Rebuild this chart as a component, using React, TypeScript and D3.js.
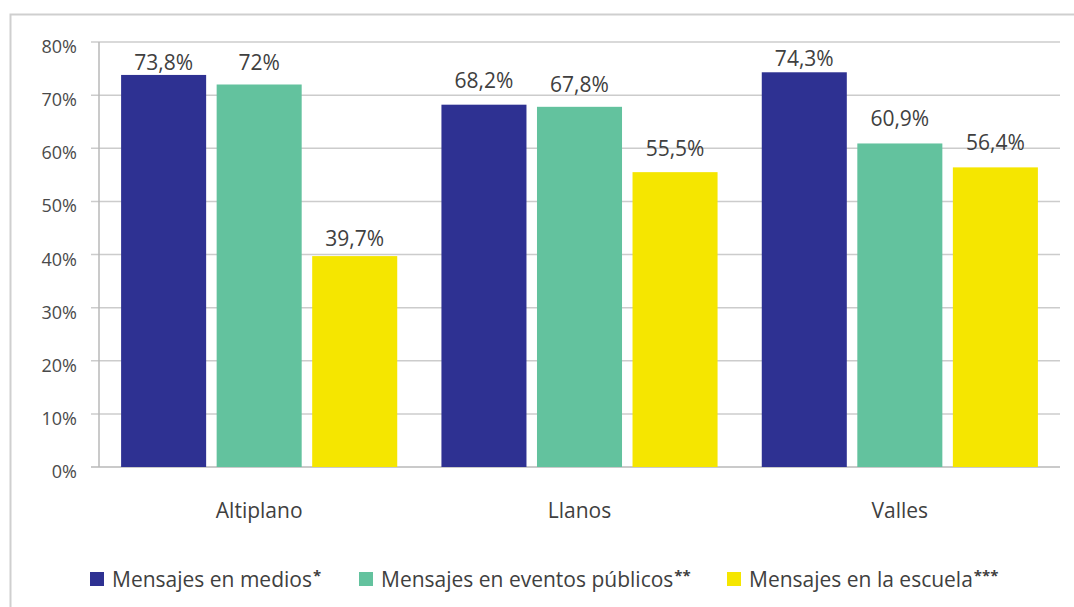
import React from "react";
import * as d3 from "d3";

const categories = ["Altiplano", "Llanos", "Valles"];
const seriesNames = [
  "Mensajes en medios*",
  "Mensajes en eventos públicos**",
  "Mensajes en la escuela***",
];
const medios = [73.8, 68.2, 74.3];
const eventos = [72, 67.8, 60.9];
const escuela = [39.7, 55.5, 56.4];
const valueLabels = [
  ["73,8%", "72%", "39,7%"],
  ["68,2%", "67,8%", "55,5%"],
  ["74,3%", "60,9%", "56,4%"],
];
const yTicks = [0, 10, 20, 30, 40, 50, 60, 70, 80];

// layout / style constants
const colors = ["#2E3192", "#63C29E", "#F5E600"];
const labelGap = [
  [5, 15, 10],
  [17, 15, 16],
  [6, 17, 17],
];
const W = 1074;
const H = 607;
const plot = { left: 99, right: 1060, top: 42, bottom: 467 };
const FONT = "'Open Sans', 'DejaVu Sans', sans-serif";
const TEXT = "#404040";

export default function App() {
  const series = [medios, eventos, escuela];
  const x = d3
    .scaleBand<string>()
    .domain(categories)
    .range([plot.left, plot.right])
    .paddingInner(0)
    .paddingOuter(0);
  const bw = x.bandwidth();
  const inner = d3
    .scaleBand<number>()
    .domain([0, 1, 2])
    .range([bw * 0.069, bw * 0.931])
    .paddingInner(0.11)
    .paddingOuter(0);
  const y = d3.scaleLinear().domain([0, 80]).range([plot.bottom, plot.top]);

  const legendX = [90, 359, 727];

  return (
    <svg
      width={W}
      height={H}
      style={{ position: "absolute", left: 0, top: 0, background: "#fff" }}
      fontFamily={FONT}
    >
      <rect x={0} y={0} width={W} height={H} fill="#fff" />
      <rect x={10.5} y={14.5} width={W + 20} height={H + 20} fill="none" stroke="#cfcfcf" strokeWidth={2} />
      {/* gridlines & ticks */}
      {yTicks.map((t) => (
        <g key={t}>
          <line
            x1={plot.left - 8}
            x2={plot.right}
            y1={y(t)}
            y2={y(t)}
            stroke={t === 0 ? "#b8b8b8" : "#cccccc"}
            strokeWidth={1.5}
          />
          <text
            x={77}
            y={y(t) + 11}
            textAnchor="end"
            fontSize={18}
            fill="#4a4a4a"
          >
            {t}%
          </text>
        </g>
      ))}
      <line x1={plot.left} x2={plot.left} y1={plot.top} y2={plot.bottom} stroke="#b8b8b8" strokeWidth={1.5} />
      {/* bars */}
      {categories.map((c, ci) => (
        <g key={c} transform={`translate(${x(c)},0)`}>
          {series.map((s, si) => {
            const bx = inner(si) as number;
            const top = y(s[ci]);
            return (
              <g key={si}>
                <rect
                  x={bx}
                  y={top}
                  width={inner.bandwidth()}
                  height={plot.bottom - top}
                  fill={colors[si]}
                />
                <text
                  x={bx + inner.bandwidth() / 2}
                  y={top - labelGap[ci][si]}
                  textAnchor="middle"
                  fontSize={21}
                  fill={TEXT}
                >
                  {valueLabels[ci][si]}
                </text>
              </g>
            );
          })}
          <text x={bw / 2} y={518} textAnchor="middle" fontSize={21} fill={TEXT}>
            {c}
          </text>
        </g>
      ))}
      {/* legend */}
      {seriesNames.map((n, i) => {
        const m = n.match(/^(.*?)(\**)$/);
        const base = m ? m[1] : n;
        const stars = m ? m[2] : "";
        return (
          <g key={n} transform={`translate(${legendX[i]},572)`}>
            <rect x={0} y={0} width={14} height={14} fill={colors[i]} />
            <text x={22} y={15} fontSize={21} fill={TEXT}>
              {base}
              <tspan fontSize={15} fontWeight="bold" dx={1} dy={-6}>
                {stars}
              </tspan>
            </text>
          </g>
        );
      })}
    </svg>
  );
}
